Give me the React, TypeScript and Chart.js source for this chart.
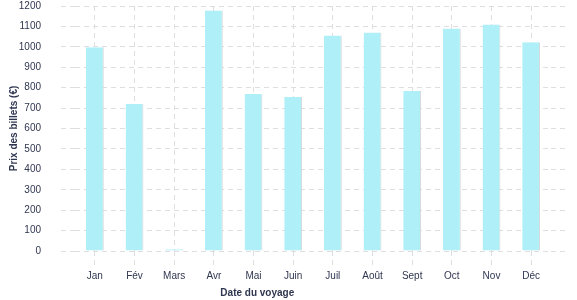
import React, { useEffect, useRef } from "react";
import { Chart, registerables } from "chart.js";

Chart.register(...registerables);

const categories = ["Jan", "Fév", "Mars", "Avr", "Mai", "Juin", "Juil", "Août", "Sept", "Oct", "Nov", "Déc"];
const prices = [998, 720, 8, 1178, 769, 754, 1055, 1070, 784, 1090, 1109, 1022];
const yMin = 0;
const yMax = 1200;
const yStep = 100;
const yTitle = "Prix des billets (€)";
const xTitle = "Date du voyage";

const FONT = "'Liberation Sans', Arial, sans-serif";
const TEXT = "#2f3650";
const GRID = "#dedede";
const DASH = [5, 4];

const xTitlePlugin = {
  id: "xTitleText",
  afterDraw(chart: any) {
    const { ctx, chartArea } = chart;
    ctx.save();
    ctx.font = `bold 10px ${FONT}`;
    ctx.fillStyle = TEXT;
    ctx.textAlign = "center";
    ctx.textBaseline = "middle";
    ctx.fillText(xTitle, chartArea.left + chartArea.width * 0.383, chart.height - 7);
    ctx.restore();
  },
};

export default function App() {
  const ref = useRef<HTMLCanvasElement | null>(null);
  useEffect(() => {
    if (!ref.current) return;
    const chart = new Chart(ref.current, {
      type: "bar",
      data: {
        labels: categories,
        datasets: [
          {
            data: prices,
            backgroundColor: "#aeeff8",
            borderColor: "#d6d6d6",
            borderWidth: { top: 0, right: 1, bottom: 0, left: 0 },
            borderSkipped: false,
            barPercentage: 0.45,
            categoryPercentage: 1,
          },
        ],
      },
      plugins: [xTitlePlugin],
      options: {
        animation: false,
        responsive: true,
        maintainAspectRatio: false,
        layout: { padding: { top: 3, right: 10, bottom: 13, left: 0 } },
        plugins: { legend: { display: false }, tooltip: { enabled: false } },
        scales: {
          x: {
            grid: {
              offset: false,
              color: GRID,
              tickColor: GRID,
              tickLength: 14,
              tickBorderDash: DASH,
            },
            border: { display: false, dash: DASH },
            ticks: { color: TEXT, font: { family: FONT, size: 10 }, padding: 5, maxRotation: 0 },
          },
          y: {
            min: yMin,
            max: yMax,
            afterFit: (s: any) => {
              s.width = 75;
              s.paddingTop = 6;
              s.paddingBottom = 0;
            },
            grid: {
              color: GRID,
              tickColor: GRID,
              tickLength: 14,
              tickBorderDash: DASH,
            },
            border: { display: false, dash: DASH },
            ticks: {
              stepSize: yStep,
              color: TEXT,
              font: { family: FONT, size: 10 },
              padding: 20,
              callback: (v: any) => String(v),
            },
            title: {
              display: true,
              text: yTitle,
              color: TEXT,
              font: { family: FONT, size: 10, weight: "bold" },
              padding: { top: 8, bottom: 1 },
            },
          },
          y2: {
            position: "right",
            min: yMin,
            max: yMax,
            grid: {
              drawOnChartArea: false,
              color: GRID,
              tickColor: GRID,
              tickLength: 16,
              tickBorderDash: DASH,
            },
            border: { display: false, dash: DASH },
            ticks: { stepSize: yStep, display: false },
          },
        },
      },
    });
    return () => chart.destroy();
  }, []);
  return (
    <div style={{ position: "absolute", left: 0, top: 0, width: 577, height: 300 }}>
      <canvas ref={ref} />
    </div>
  );
}
